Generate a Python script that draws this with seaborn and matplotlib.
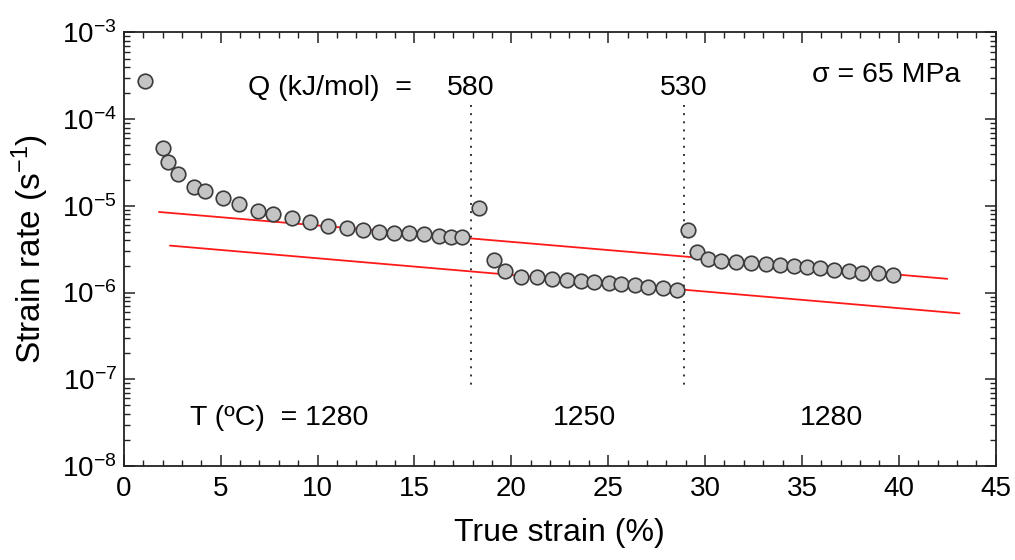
import numpy as np
import pandas as pd
import matplotlib
matplotlib.use("Agg")
import matplotlib.pyplot as plt
import matplotlib.ticker as mticker
import seaborn as sns

# Creep test: strain rate vs. true strain at 65 MPa, temperature steps 1280 -> 1250 -> 1280 C
strain = [1.08, 2.03, 2.29, 2.81, 3.62, 4.2, 5.13, 5.94, 6.92, 7.7, 8.66, 9.59, 10.54,
          11.5, 12.36, 13.15, 13.95, 14.7, 15.5, 16.27, 16.89, 17.47,
          18.34, 19.08, 19.68, 20.49, 21.32, 22.1, 22.85, 23.6, 24.29, 25.02, 25.66,
          26.38, 27.07, 27.82, 28.55,
          29.1, 29.58, 30.15, 30.84, 31.6, 32.37, 33.13, 33.85, 34.57, 35.26, 35.95,
          36.66, 37.41, 38.08, 38.95, 39.69]
rate = [2.77e-4, 4.6e-5, 3.2e-5, 2.3e-5, 1.67e-5, 1.49e-5, 1.22e-5, 1.04e-5, 8.75e-6,
        8.1e-6, 7.15e-6, 6.5e-6, 5.9e-6, 5.6e-6, 5.3e-6, 5.05e-6, 4.9e-6, 4.85e-6,
        4.7e-6, 4.55e-6, 4.35e-6, 4.35e-6,
        9.4e-6, 2.38e-6, 1.78e-6, 1.53e-6, 1.52e-6, 1.45e-6, 1.40e-6, 1.36e-6, 1.33e-6,
        1.28e-6, 1.25e-6, 1.21e-6, 1.16e-6, 1.12e-6, 1.07e-6,
        5.3e-6, 2.97e-6, 2.43e-6, 2.34e-6, 2.28e-6, 2.2e-6, 2.16e-6, 2.09e-6, 2.03e-6,
        1.98e-6, 1.93e-6, 1.83e-6, 1.75e-6, 1.7e-6, 1.66e-6, 1.6e-6]

# Reference trend lines (1280 C and 1250 C)
fit_hi_x = [1.81, 42.5]
fit_hi_y = [8.5e-6, 1.44e-6]
fit_lo_x = [2.38, 43.13]
fit_lo_y = [3.48e-6, 5.75e-7]

# Temperature change positions
step_strain = [17.9, 28.9]
q_values = ["580", "530"]
temps = ["1280", "1250", "1280"]
temp_x = [13.0, 23.8, 36.5]

sns.set_style("ticks")
plt.rcParams["font.family"] = ["Liberation Sans", "DejaVu Sans"]
plt.rcParams["mathtext.fontset"] = "custom"
plt.rcParams["mathtext.rm"] = "Liberation Sans"
plt.rcParams["mathtext.it"] = "Liberation Sans:italic"
plt.rcParams["mathtext.bf"] = "Liberation Sans:bold"
plt.rcParams["text.color"] = "black"
plt.rcParams["axes.labelcolor"] = "black"
plt.rcParams["xtick.labelcolor"] = "black"
plt.rcParams["ytick.labelcolor"] = "black"

fig = plt.figure(figsize=(10.15, 5.6), dpi=100)
ax = fig.add_axes([0.122, 0.168, 0.859, 0.774])

df = pd.DataFrame({"strain": strain, "rate": rate})
fits = pd.DataFrame({
    "x": fit_hi_x + fit_lo_x,
    "y": fit_hi_y + fit_lo_y,
    "line": ["hi", "hi", "lo", "lo"],
})

ax.set_yscale("log")
sns.lineplot(data=fits, x="x", y="y", units="line", estimator=None, color="#ff1a1a",
             lw=1.3, ax=ax, zorder=2)
for xs in step_strain:
    ax.plot([xs, xs], [1.45e-4, 8.6e-8], ls=(0, (1, 3.2)), color="#333333", lw=1.4, zorder=1)
sns.scatterplot(data=df, x="strain", y="rate", s=110, color="#c4c4c4", edgecolor="#3a3a3a",
                linewidth=1.2, ax=ax, zorder=3)

ax.set_xlim(0, 45)
ax.set_ylim(1e-8, 1e-3)
ax.xaxis.set_major_locator(mticker.MultipleLocator(5))
ax.xaxis.set_minor_locator(mticker.MultipleLocator(1))
ax.yaxis.set_major_locator(mticker.LogLocator(base=10, numticks=10))
ax.yaxis.set_minor_locator(mticker.LogLocator(base=10, subs=np.arange(2, 10), numticks=20))
ax.yaxis.set_minor_formatter(mticker.NullFormatter())


def decade_label(v, pos):
    return r"10$^{\mathregular{%d}}$" % int(round(np.log10(v)))


ax.yaxis.set_major_formatter(mticker.FuncFormatter(decade_label))

ax.tick_params(which="both", direction="in", top=True, right=True, color="#222222")
ax.tick_params(which="major", length=8, width=1.1, labelsize=20, pad=7)
ax.tick_params(axis="y", which="major", labelsize=20, pad=5)
ax.tick_params(which="minor", length=4, width=1.0)
for sp in ax.spines.values():
    sp.set_linewidth(1.3)
    sp.set_color("#222222")

ax.set_xlabel("True strain (%)", fontsize=23, labelpad=12)
ax.set_ylabel(r"Strain rate (s$^{\mathregular{-1}}$)", fontsize=24, labelpad=8)

txt = dict(fontsize=20.5, color="black", va="center")
ax.text(6.4, 2.3e-4, "Q (kJ/mol)  =", ha="left", **txt)
for xs, q in zip(step_strain, q_values):
    ax.text(xs, 2.3e-4, q, ha="center", **txt)
ax.text(43.2, 3.2e-4, "σ = 65 MPa", ha="right", **txt)
ax.text(3.4, 3.6e-8, "T (ºC)  = " + temps[0], ha="left", **txt)
ax.text(temp_x[1], 3.6e-8, temps[1], ha="center", **txt)
ax.text(temp_x[2], 3.6e-8, temps[2], ha="center", **txt)

fig.savefig("out.png", dpi=100)
